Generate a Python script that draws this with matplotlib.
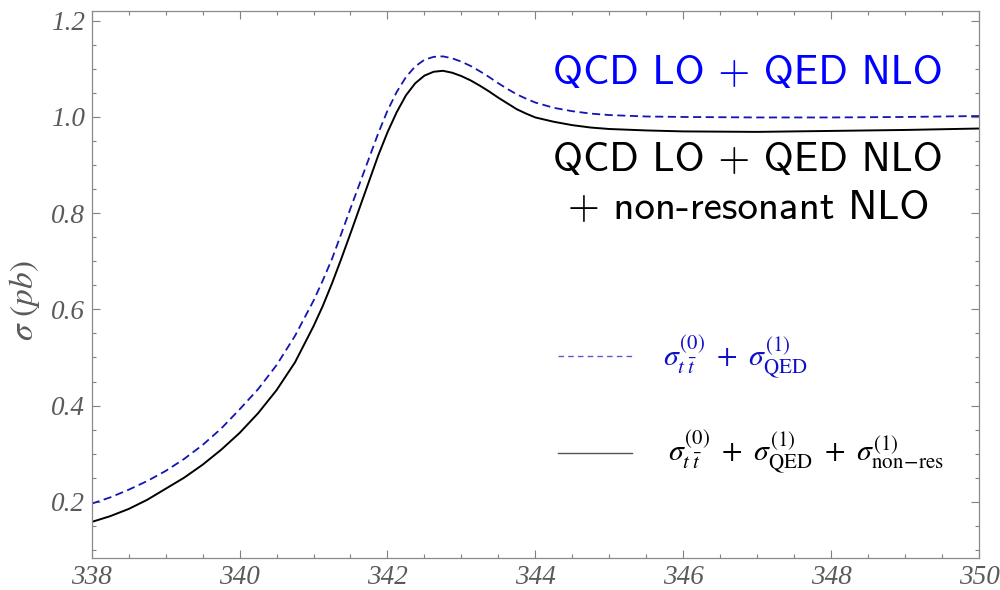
import matplotlib
matplotlib.use('Agg')
import matplotlib.pyplot as plt
from matplotlib.ticker import MultipleLocator

# sqrt(s) in GeV
energy = [338.0, 338.25, 338.5, 338.75, 339.0, 339.25, 339.5, 339.75, 340.0, 340.25,
          340.5, 340.75, 341.0, 341.125, 341.25, 341.375, 341.5, 341.625, 341.75, 341.875,
          342.0, 342.125, 342.25, 342.375, 342.5, 342.625, 342.75, 342.875, 343.0, 343.125,
          343.25, 343.375, 343.5, 343.625, 343.75, 343.875, 344.0, 344.25, 344.5, 344.75,
          345.0, 345.5, 346.0, 347.0, 348.0, 349.0, 350.0]

# QCD LO + QED NLO (dashed)
sigma_qed = [0.196, 0.209, 0.225, 0.243, 0.264, 0.289, 0.318, 0.352, 0.392, 0.434,
             0.484, 0.545, 0.618, 0.660, 0.705, 0.757, 0.810, 0.862, 0.914, 0.966,
             1.013, 1.052, 1.083, 1.105, 1.119, 1.125, 1.126, 1.122, 1.115, 1.106,
             1.095, 1.083, 1.070, 1.058, 1.047, 1.038, 1.030, 1.019, 1.012, 1.007,
             1.004, 1.001, 1.000, 0.999, 0.999, 1.000, 1.002]

# QCD LO + QED NLO + non-resonant NLO (solid)
sigma_nonres = [0.158, 0.170, 0.185, 0.204, 0.227, 0.250, 0.277, 0.308, 0.343, 0.384,
                0.432, 0.490, 0.565, 0.607, 0.654, 0.705, 0.758, 0.812, 0.866, 0.920,
                0.968, 1.010, 1.045, 1.070, 1.086, 1.094, 1.096, 1.092, 1.085, 1.076,
                1.065, 1.053, 1.040, 1.028, 1.016, 1.007, 0.999, 0.990, 0.983, 0.978,
                0.975, 0.972, 0.970, 0.969, 0.971, 0.973, 0.976]

xticks = [338, 340, 342, 344, 346, 348, 350]
yticks = [0.2, 0.4, 0.6, 0.8, 1.0, 1.2]

grey = '#5a5a5a'
tick_font = dict(family='Liberation Serif', style='italic', size=19.5, color=grey)

fig = plt.figure(figsize=(10, 5.9), dpi=100)
ax = fig.add_axes([0.0917, 0.0542, 0.8873, 0.9277])

ax.plot(energy, sigma_qed, color='#1414b4', lw=1.3, dashes=(4.5, 2.5))
ax.plot(energy, sigma_nonres, color='black', lw=1.4)

ax.set_xlim(338, 350)
ax.set_ylim(0.083, 1.221)

ax.set_xticks(xticks)
ax.set_xticklabels([str(t) for t in xticks], fontdict=tick_font)
ax.set_yticks(yticks)
ax.set_yticklabels([f'{t:.1f}' for t in yticks], fontdict=tick_font)
ax.xaxis.set_minor_locator(MultipleLocator(0.5))
ax.yaxis.set_minor_locator(MultipleLocator(0.05))
ax.tick_params(which='both', direction='in', top=True, right=True, color='#808080', width=0.8)
ax.tick_params(which='major', length=5.5)
ax.tick_params(which='minor', length=3)
ax.tick_params(axis='x', which='major', pad=5)
ax.tick_params(axis='y', which='major', pad=5)
for s in ax.spines.values():
    s.set_color('#8a8a8a')
    s.set_linewidth(0.9)

ax.set_ylabel(r'$\sigma\ (pb)$', fontsize=24, color=grey, math_fontfamily='stix')
ax.yaxis.set_label_coords(-0.056, 0.471)

# curve labels
sans = ['cmss10', 'DejaVu Sans']
ax.text(346.88, 1.091, 'QCD LO + QED NLO', color='#0000ff', fontsize=29.5,
        family=sans, ha='center', va='center')
ax.text(346.88, 0.910, 'QCD LO + QED NLO', color='black', fontsize=29.5,
        family=sans, ha='center', va='center')
ax.text(346.88, 0.810, '+ non-resonant NLO', color='black', fontsize=29.5,
        family=sans, ha='center', va='center')

# hand-made legend
ax.plot([344.30, 345.31], [0.503, 0.503], color='#5a5ad0', lw=1.0, dashes=(4, 3))
ax.plot([344.30, 345.31], [0.301, 0.301], color='#555555', lw=1.0)
ax.text(345.72, 0.500, r'$\sigma_{t\;\bar{t}}^{(0)}\ +\ \sigma_{\mathrm{QED}}^{(1)}$',
        color='#1010c8', fontsize=21.5, math_fontfamily='stix', ha='left', va='center')
ax.text(345.80, 0.304,
        r'$\sigma_{t\;\bar{t}}^{(0)}\ +\ \sigma_{\mathrm{QED}}^{(1)}\ +\ \sigma_{\mathrm{non\!-\!res}}^{(1)}$',
        color='black', fontsize=21.5, math_fontfamily='stix', ha='left', va='center')

fig.savefig('out.png', dpi=100)
